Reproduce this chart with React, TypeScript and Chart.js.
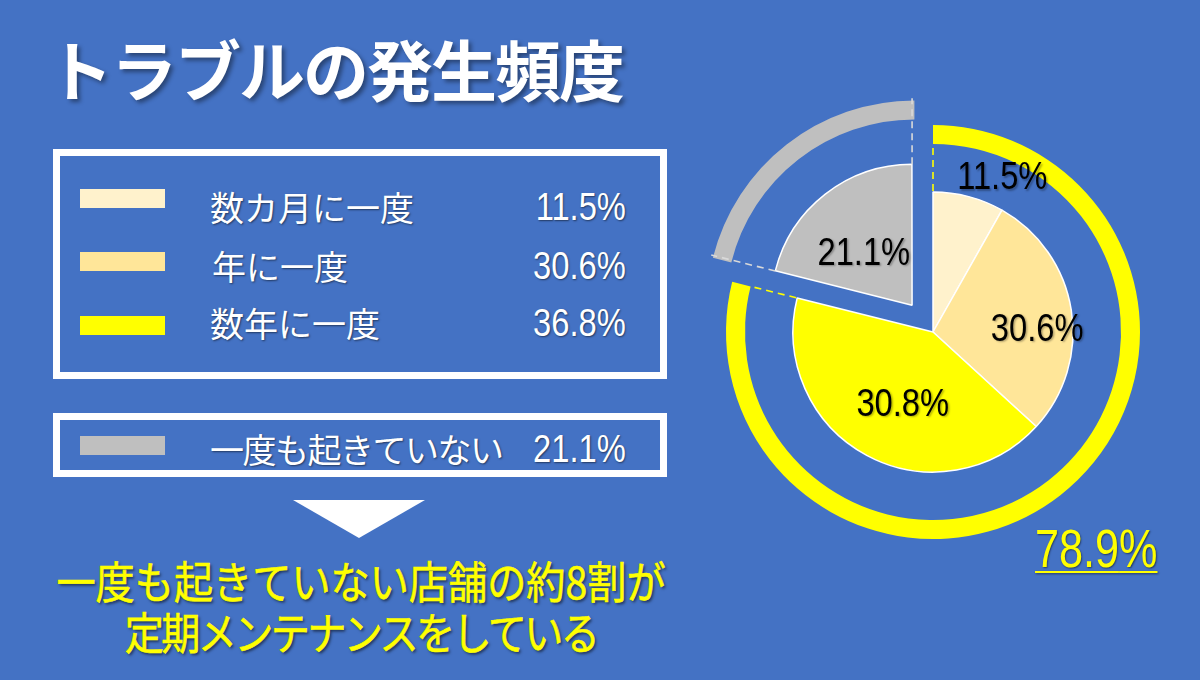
import React, { useEffect, useRef } from "react";
import Chart from "chart.js/auto";

const categories = ["数カ月に一度", "年に一度", "数年に一度", "一度も起きていない"];
// shares printed in the legend
const values = [11.5, 30.6, 36.8, 21.1];
const sliceValues = [8.2, 28.6, 42.1, 21.1];
const pieLabels = ["11.5%", "30.6%", "30.8%", "21.1%"];
const sliceColors = ["#FFF2CC", "#FFE699", "#FFFF00", "#BFBFBF"];
const ringColors = ["#FFFF00", "#BFBFBF"];

// share of shops that had at least one trouble (outer ring)
const regularShare = values.slice(0, 3).reduce((a, b) => a + b, 0);
const ringValues = [regularShare, values[3]];

const BG = "#4472C4";
const JP = '"Noto Sans CJK JP", "Noto Sans", sans-serif';
const NUM = '"Liberation Sans", Arial, sans-serif';

// chart.js moves an exploded arc by offset / 4
const SLICE_SHIFT = 34;
const ARC_SHIFT = 30;

// label spot per slice: radius factor, angle shift (deg)
const labelPlace = [
  [1.2, 9.6],
  [0.744, 8.1],
  [0.566, -5.8],
  [0.5, -5.6],
];

const rowCenter = [207, 266, 323, 449];
const swatchTop = [189, 252, 316, 436];
const labelLeft = [210, 212, 210, 210];

const decorPlugin = {
  id: "decor",
  afterDatasetsDraw(chart: any) {
    const ctx = chart.ctx as CanvasRenderingContext2D;
    const ring = chart.getDatasetMeta(0).data as any[];
    const pie = chart.getDatasetMeta(2).data as any[];
    const shifted = (el: any) => {
      const mid = (el.startAngle + el.endAngle) / 2;
      const s = (el.options.offset || 0) / 4;
      return [el.x + Math.cos(mid) * s, el.y + Math.sin(mid) * s];
    };
    const dash = (cx: number, cy: number, a: number, r0: number, r1: number) => {
      ctx.beginPath();
      ctx.moveTo(cx + Math.cos(a) * r0, cy + Math.sin(a) * r0);
      ctx.lineTo(cx + Math.cos(a) * r1, cy + Math.sin(a) * r1);
      ctx.stroke();
    };

    ctx.save();
    ctx.lineWidth = 1.6;
    ctx.setLineDash([7, 5]);
    const y = ring[0];
    ctx.strokeStyle = "#FFFF00";
    dash(y.x, y.y, y.startAngle, pie[0].outerRadius + 1, y.innerRadius);
    dash(y.x, y.y, y.endAngle, pie[0].outerRadius + 1, y.innerRadius);

    const g = pie[3];
    const [gx, gy] = shifted(g);
    ctx.strokeStyle = "#D9D9D9";
    dash(gx, gy, g.startAngle, g.outerRadius + 1, ring[1].outerRadius);
    dash(gx, gy, g.endAngle, g.outerRadius + 1, ring[1].outerRadius);
    ctx.restore();

    ctx.save();
    ctx.font = `38px ${NUM}`;
    ctx.fillStyle = "#000";
    ctx.textAlign = "center";
    ctx.textBaseline = "middle";
    ctx.shadowColor = "rgba(0,0,0,0.3)";
    ctx.shadowOffsetX = 1.5;
    ctx.shadowOffsetY = 1.5;
    ctx.shadowBlur = 2;
    pie.forEach((el, i) => {
      const [cx, cy] = shifted(el);
      const [rf, da] = labelPlace[i];
      const a = (el.startAngle + el.endAngle) / 2 + (da * Math.PI) / 180;
      const r = el.outerRadius * rf;
      ctx.save();
      ctx.translate(cx + Math.cos(a) * r, cy + Math.sin(a) * r);
      ctx.scale(0.86, 1);
      ctx.fillText(pieLabels[i], 0, 0);
      ctx.restore();
    });
    ctx.restore();
  },
};

export default function App() {
  const canvasRef = useRef<HTMLCanvasElement>(null);
  const chartRef = useRef<Chart | null>(null);

  useEffect(() => {
    if (chartRef.current) {
      chartRef.current.destroy();
    }
    const ctx = canvasRef.current?.getContext("2d");
    if (!ctx) return;

    chartRef.current = new Chart(ctx, {
      type: "pie",
      data: {
        labels: categories,
        datasets: [
          {
            label: "ring",
            data: ringValues,
            backgroundColor: ringColors,
            borderWidth: 0,
            hoverBorderWidth: 0,
            hoverOffset: 0,
            offset: [0, ARC_SHIFT * 4],
            weight: 19,
          } as any,
          {
            label: "gap",
            data: [1],
            backgroundColor: "rgba(0,0,0,0)",
            borderWidth: 0,
            hoverBorderWidth: 0,
            hoverOffset: 0,
            weight: 48,
          } as any,
          {
            label: "頻度",
            data: sliceValues,
            backgroundColor: sliceColors,
            borderColor: "#ffffff",
            borderWidth: 1.5,
            hoverOffset: 0,
            offset: [0, 0, 0, SLICE_SHIFT * 4],
            weight: 140,
          } as any,
        ],
      },
      options: {
        responsive: false,
        animation: false,
        events: [],
        radius: 207,
        layout: { padding: { left: 113, right: 47, top: 112, bottom: 128 } },
        plugins: {
          legend: { display: false },
          tooltip: { enabled: false },
        },
      } as any,
      plugins: [decorPlugin],
    });

    return () => {
      if (chartRef.current) {
        chartRef.current.destroy();
        chartRef.current = null;
      }
    };
  }, []);

  const white = "#ffffff";
  const yellow = "#FFFF00";

  return (
    <div
      style={{
        position: "fixed",
        left: 0,
        top: 0,
        width: 1200,
        height: 680,
        background: BG,
        overflow: "hidden",
        fontFamily: JP,
      }}
    >
      <div
        style={{
          position: "absolute",
          left: 47,
          top: 34,
          fontSize: 66,
          lineHeight: "66px",
          fontWeight: 700,
          letterSpacing: -2,
          color: white,
          whiteSpace: "nowrap",
          textShadow: "3px 3px 4px rgba(0,0,0,0.4)",
        }}
      >
        トラブルの発生頻度
      </div>

      <div
        style={{
          position: "absolute",
          left: 53,
          top: 149,
          width: 614,
          height: 230,
          border: "7px solid #fff",
          boxSizing: "border-box",
        }}
      />
      <div
        style={{
          position: "absolute",
          left: 53,
          top: 413,
          width: 614,
          height: 64,
          border: "7px solid #fff",
          boxSizing: "border-box",
        }}
      />

      {categories.map((c, i) => (
        <React.Fragment key={c}>
          <div
            style={{
              position: "absolute",
              left: 80,
              top: swatchTop[i],
              width: 85,
              height: 19,
              background: sliceColors[i],
            }}
          />
          <div
            style={{
              position: "absolute",
              left: labelLeft[i],
              top: rowCenter[i] - 17,
              fontSize: 34,
              lineHeight: "34px",
              letterSpacing: i === 3 ? -1.5 : 0,
              color: white,
              whiteSpace: "nowrap",
              textShadow: "1px 1px 2px rgba(0,0,0,0.5)",
            }}
          >
            {c}
          </div>
          <div
            style={{
              position: "absolute",
              right: 574,
              top: rowCenter[i] - 19,
              fontSize: 38,
              lineHeight: "38px",
              fontFamily: NUM,
              color: white,
              whiteSpace: "nowrap",
              transform: "scaleX(0.86)",
              transformOrigin: "right center",
              textShadow: "1px 1px 2px rgba(0,0,0,0.5)",
            }}
          >
            {values[i].toFixed(1)}%
          </div>
        </React.Fragment>
      ))}

      <div
        style={{
          position: "absolute",
          left: 293,
          top: 500,
          width: 0,
          height: 0,
          borderLeft: "66px solid transparent",
          borderRight: "66px solid transparent",
          borderTop: "38px solid #fff",
        }}
      />

      {["一度も起きていない店舗の約8割が", "定期メンテナンスをしている"].map((t, i) => (
        <div
          key={t}
          style={{
            position: "absolute",
            left: 361,
            top: i === 0 ? 558 : 609,
            fontSize: 44,
            lineHeight: "44px",
            fontWeight: 400,
            letterSpacing: i === 0 ? 0 : -3,
            color: yellow,
            whiteSpace: "nowrap",
            transform: "translateX(-50%) scaleX(0.89)",
            transformOrigin: "center",
            textShadow: "2px 2px 3px rgba(0,0,0,0.55)",
            WebkitTextStroke: "0.6px #FFFF00",
          }}
        >
          {t}
        </div>
      ))}

      <div
        style={{
          position: "absolute",
          left: 600,
          top: 0,
          width: 600,
          height: 680,
        }}
      >
        <canvas ref={canvasRef} width={600} height={680} />
      </div>

      <div
        style={{
          position: "absolute",
          left: 1035,
          top: 522,
          fontSize: 53,
          lineHeight: "53px",
          fontFamily: NUM,
          color: yellow,
          whiteSpace: "nowrap",
          textDecoration: "underline",
          textDecorationThickness: "2px",
          textUnderlineOffset: "4px",
          transform: "scaleX(0.815)",
          transformOrigin: "left center",
          textShadow: "1px 1px 2px rgba(0,0,0,0.5)",
        }}
      >
        {regularShare.toFixed(1)}%
      </div>
    </div>
  );
}
